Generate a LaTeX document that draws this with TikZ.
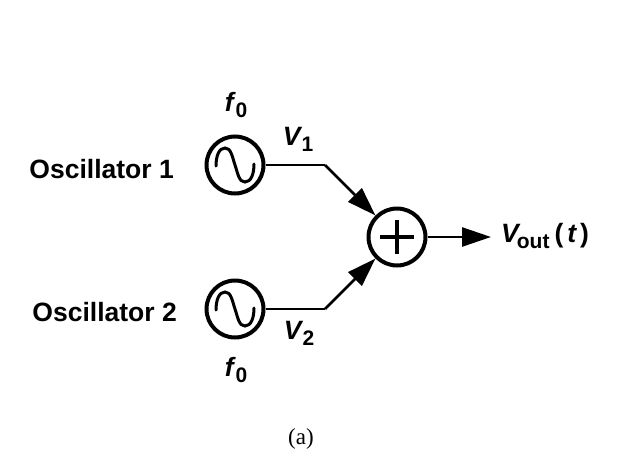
\documentclass[tikz,border=0pt]{standalone}
\usepackage{fontspec}
\setmainfont{Liberation Serif}
\setsansfont{Liberation Sans}
\usetikzlibrary{arrows.meta}
\newcommand{\subfont}{\upshape\fontsize{21}{24}\selectfont}
\tikzset{sigarrow/.style={-{Triangle[length=29pt,width=19pt]}, line width=2.6pt},
  sigline/.style={line width=2.6pt},
  oscnode/.style={draw, circle, line width=4pt, minimum size=57pt, inner sep=0pt,
    path picture={\begin{scope}[shift={(path picture bounding box.center)}, x=1pt, y=1pt]
      \draw[line width=3pt, line cap=round] (-19,-1) .. controls (-19,9) and (-16,17) .. (-10,17)
        .. controls (-4,17) and (-3,9) .. (0,0) .. controls (3,-9) and (4,-17) .. (10,-17)
        .. controls (16,-17) and (19,-9) .. (19,1);
      \end{scope}}},
  sumnode/.style={draw, circle, line width=4pt, minimum size=57pt, inner sep=0pt,
    path picture={\draw[line width=3.6pt] ([xshift=-17pt]path picture bounding box.center) -- ([xshift=17pt]path picture bounding box.center)
      ([yshift=-17pt]path picture bounding box.center) -- ([yshift=17pt]path picture bounding box.center);}},
  lab/.style={font=\fontsize{26.5}{28}\selectfont\sffamily\bfseries, inner sep=0pt}}

\begin{document}
\begin{tikzpicture}[x=1pt, y=-1pt]
\useasboundingbox (0,0) rectangle (623,455);
\node[oscnode] (osca) at (235,165) {};
\node[oscnode] (oscb) at (235,309) {};
\node[sumnode] (sum) at (397,237) {};
\coordinate (benda) at (325,165);
\coordinate (bendb) at (325,309);
\coordinate (out) at (491,237);
\draw[sigline] (osca) -- (benda);
\draw[sigline] (oscb) -- (bendb);
\draw[sigarrow] (benda) -- (sum);
\draw[sigarrow] (bendb) -- (sum);
\draw[sigarrow] (sum) -- (out);
\node[lab, anchor=east] (labela) at (174,169) {Oscillator 1};
\node[lab, anchor=east] (labelb) at (177,312) {Oscillator 2};
\node[lab] (freqa) at (236,105) {\itshape f\kern2pt\raisebox{-6pt}{\subfont 0}};
\node[lab] (freqb) at (236,370) {\itshape f\kern2pt\raisebox{-6pt}{\subfont 0}};
\node[lab] (volta) at (298,139) {\itshape V\kern1pt\raisebox{-6pt}{\subfont 1}};
\node[lab] (voltb) at (299,333) {\itshape V\kern1pt\raisebox{-6pt}{\subfont 2}};
\node[lab, anchor=west] (voltc) at (501,236) {\itshape V\kern-2pt\raisebox{-6pt}{\subfont out}\kern5pt\upshape(\kern4pt\itshape t\kern4pt\upshape)};
\node[font=\rmfamily\fontsize{23}{24}\selectfont] (cap) at (301,439) {(a)};
\end{tikzpicture}
\end{document}
